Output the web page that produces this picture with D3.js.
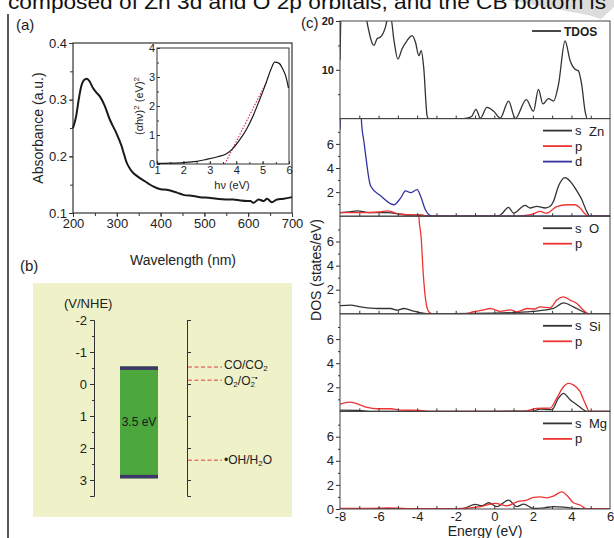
<!DOCTYPE html>
<html>
<head>
<meta charset="utf-8">
<script src="https://cdn.jsdelivr.net/npm/d3@7"></script>
<style>
  body { margin: 0; background: #fff; }
  svg { display: block; font-family: Arial, "Liberation Sans", sans-serif; }
  .axis text { fill: #222; }
  .axis path, .axis line { stroke: #333; }
</style>
</head>
<body>
<div id="plot"></div>
<script>
// ---------- data: panel (a) absorbance ----------
var absWl = [200, 207, 213, 219, 227, 232, 238, 246, 253, 262, 272, 284, 299, 306, 311, 316, 322, 330, 337, 345, 352, 360, 372, 383, 400, 414, 437, 452, 475, 490, 510, 528, 550, 566, 582, 597, 605, 612, 624, 635, 643, 654, 666, 681, 700];
var absVal = [0.25, 0.27, 0.30, 0.324, 0.336, 0.337, 0.332, 0.32, 0.313, 0.305, 0.29, 0.265, 0.241, 0.228, 0.218, 0.205, 0.19, 0.178, 0.171, 0.166, 0.162, 0.158, 0.152, 0.147, 0.142, 0.141, 0.136, 0.132, 0.13, 0.128, 0.127, 0.125, 0.124, 0.124, 0.122, 0.121, 0.121, 0.118, 0.124, 0.121, 0.125, 0.119, 0.124, 0.125, 0.128];
var absTicksX = [200, 300, 400, 500, 600, 700];
var absTicksY = [0.1, 0.2, 0.3, 0.4];

// inset Tauc plot
var taucE = [1, 1.5, 2, 2.5, 2.88, 3.3, 3.63, 3.88, 4.13, 4.38, 4.63, 4.88, 5.13, 5.31, 5.46, 5.63, 5.75, 5.88, 5.98];
var taucVal = [0.02, 0.03, 0.05, 0.09, 0.16, 0.25, 0.35, 0.54, 0.83, 1.18, 1.64, 2.2, 2.79, 3.25, 3.51, 3.47, 3.3, 3.02, 2.62];
var fitE = [3.57, 5.13];
var fitVal = [0, 2.8];

// ---------- data: panel (b) band edges ----------
var potTicks = [-2, -1, 0, 1, 2, 3];
var cbEdge = -0.55;
var vbEdge = 2.95;
var gapLabel = "3.5 eV";
var redoxNames = ["CO/CO2", "O2/O2-", "OH/H2O"];
var redoxPot = [-0.53, -0.12, 2.38];

// ---------- data: panel (c) DOS ----------
var tdosE = [-8, -7.9, -6.75, -6.67, -6.5, -6.24, -6.07, -5.9, -5.64, -5.5, -5.38, -5.2, -5.0, -4.78, -4.52, -4.26, -4.09, -3.91, -3.79, -3.66, -3.48, -3.4, -1.6, -1.41, -1.16, -0.95, -0.72, -0.38, -0.03, 0.31, 0.74, 1.09, 1.66, 2.03, 2.29, 2.52, 2.81, 3.07, 3.33, 3.67, 3.93, 4.19, 4.36, 4.53, 4.71, 4.83, 6];
var tdosVal = [12, 26, 26, 22, 17.9, 15.0, 16.4, 16.7, 18.8, 21, 21, 16, 12.2, 14.3, 16, 17, 15.7, 12.9, 13.9, 10.5, 0.5, 0, 0, 0.1, 0.5, 1.9, 0.1, 2.3, 1.5, 0.1, 3.6, 0, 3.9, 1.5, 6, 3, 4.1, 3.6, 7, 15.9, 11.9, 10.1, 9.8, 7, 1.5, 0, 0];

var znSE = [-8, -7.5, -7.1, -6.5, -5.5, -5, -4.5, -3.8, -3.4, 0, 0.31, 0.74, 1.0, 1.6, 1.86, 2.2, 2.64, 2.9, 3.07, 3.33, 3.67, 3.93, 4.28, 4.53, 4.79, 4.97, 6];
var znSVal = [0.3, 0.35, 0.45, 0.3, 0.3, 0.2, 0.1, 0.08, 0, 0.02, 0.1, 0.73, 0.25, 0.9, 0.68, 0.82, 0.68, 0.82, 1.24, 2.5, 3.2, 2.9, 2.1, 1.4, 0.4, 0, 0];
var znPE = [-8, -7, -6, -5.5, -5, -4.5, -3.8, -3.4, 1.0, 1.5, 2.03, 2.38, 2.7, 3.24, 3.76, 4.19, 4.45, 4.7, 4.9, 6];
var znPVal = [0.3, 0.3, 0.35, 0.45, 0.2, 0.12, 0.1, 0, 0, 0.05, 0.2, 0.4, 0.25, 0.8, 0.95, 0.95, 0.68, 0.2, 0, 0];
var znDE = [-8, -7.85, -7.0, -6.88, -6.76, -6.6, -6.5, -6.41, -5.9, -5.21, -4.86, -4.6, -4.34, -4.0, -3.83, -3.57, -3.31, -3.1, 6];
var znDVal = [7.2, 12, 12, 7.7, 6.2, 4.2, 3.1, 2.5, 1.7, 0.95, 1.5, 2.1, 1.95, 2.2, 1.7, 0.53, 0.05, 0, 0];

var oSE = [-8, -7.45, -6.93, -6.07, -5.38, -5.03, -4.69, -4.17, -3.7, -3.4, 0, 2.0, 3.07, 3.59, 4.1, 4.6, 4.85, 6];
var oSVal = [0.67, 0.72, 0.58, 0.44, 0.44, 0.3, 0.44, 0.22, 0.05, 0, 0.05, 0.2, 0.44, 0.9, 0.58, 0.17, 0, 0];
var oPE = [-8, -3.95, -3.91, -3.79, -3.69, -3.57, -3.40, -3.22, -1.5, -1.07, -0.6, -0.2, 0.3, 0.83, 1.17, 1.7, 2.1, 2.38, 2.9, 3.24, 3.59, 3.93, 4.28, 4.53, 4.79, 4.95, 6];
var oPVal = [12, 12, 8.1, 6.3, 3.5, 1.28, 0.17, 0, 0, 0.17, 0.3, 0.44, 0.2, 0.33, 0.17, 0.44, 0.4, 0.58, 0.5, 1.14, 1.4, 1.14, 0.86, 0.44, 0.08, 0, 0];

var siSE = [-8, -7, -6.5, -2, 2.0, 2.38, 2.98, 3.33, 3.59, 3.93, 4.28, 4.62, 4.8, 6];
var siSVal = [0.1, 0.08, 0, 0, 0.03, 0.2, 0.14, 1.1, 1.5, 0.96, 0.55, 0.14, 0, 0];
var siPE = [-8, -7.53, -7.1, -6.59, -6.07, -5.38, -4.86, -3.83, -3.4, 1.2, 1.69, 2.2, 2.9, 3.24, 3.59, 3.84, 4.1, 4.45, 4.71, 4.93, 6];
var siPVal = [0.6, 0.77, 0.63, 0.33, 0.22, 0.22, 0.11, 0.08, 0, 0, 0.05, 0.25, 0.27, 1.1, 2.05, 2.33, 2.2, 1.64, 0.68, 0, 0];

var mgSE = [-8, -1.8, -1.59, -0.98, -0.64, -0.29, 0.14, 0.74, 1.17, 1.52, 2.03, 2.6, 3.07, 3.59, 4.2, 4.6, 6];
var mgSVal = [0.02, 0, 0.05, 0.38, 0.27, 0.52, 0.2, 0.74, 0.2, 0.4, 0.05, 0.1, 0.2, 0.16, 0.05, 0, 0];
var mgPE = [-8, -6.5, -5.5, -4.5, -2, -0.72, 0.05, 0.66, 1.17, 1.69, 2.03, 2.38, 2.72, 3.07, 3.5, 3.84, 4.1, 4.45, 4.79, 6];
var mgPVal = [0.05, 0.05, 0.1, 0.03, 0.02, 0.2, 0.47, 0.27, 0.6, 0.74, 0.96, 1.0, 0.93, 1.07, 1.42, 1.0, 0.52, 0.33, 0, 0];

var energyTicks = [-8, -6, -4, -2, 0, 2, 4, 6];

var black = "#333";
var red = "#ee3333";
var blue = "#3333a0";
var plain = d => String(d);   // keep "-2" with a plain hyphen like the figure

// ---------- svg ----------
var svg = d3.select("#plot").append("svg")
    .attr("width", 614)
    .attr("height", 538);

svg.append("rect").attr("width", 614).attr("height", 538).attr("fill", "#fff");

// grey band behind the cut-off caption
svg.append("path")
    .attr("d", "M508,0 L614,0 L614,7 L601,19 L588,15 Z")
    .attr("fill", "#dcdcdc");

// caption text cut off at top of the page
svg.append("text")
    .attr("x", 8).attr("y", 9)
    .attr("font-size", 20)
    .attr("textLength", 598)
    .attr("lengthAdjust", "spacingAndGlyphs")
    .attr("fill", "#111")
    .text("composed of Zn 3d and O 2p orbitals, and the CB bottom is");

svg.append("line")
    .attr("x1", 8).attr("x2", 8).attr("y1", 14).attr("y2", 538)
    .attr("stroke", "#222").attr("stroke-width", 1.5);

function zip(xs, ys) { return xs.map((x, i) => [x, ys[i]]); }

// =================================
// panel (a)
// =================================
var xA = d3.scaleLinear().domain([200, 700]).range([73, 292]);
var yA = d3.scaleLinear().domain([0.1, 0.4]).range([213, 43]);
var gA = svg.append("g");

gA.append("rect").attr("x", 73).attr("y", 43).attr("width", 219).attr("height", 170)
    .attr("fill", "none").attr("stroke", black).attr("stroke-width", 1.2);

gA.append("g").attr("class", "axis")
    .attr("transform", "translate(0,213)")
    .call(d3.axisBottom(xA).tickValues(d3.range(200, 701, 50)).tickSize(3).tickFormat(""))
    .call(g => g.select(".domain").remove());
gA.append("g").attr("class", "axis")
    .attr("transform", "translate(0,213)")
    .call(d3.axisBottom(xA).tickValues(absTicksX).tickSize(4).tickPadding(2))
    .call(g => g.select(".domain").remove())
    .selectAll("text").attr("font-size", 13);

gA.append("g").attr("class", "axis")
    .attr("transform", "translate(73,0)")
    .call(d3.axisLeft(yA).tickValues(d3.range(0.1, 0.401, 0.05)).tickSize(3).tickFormat(""))
    .call(g => g.select(".domain").remove());
gA.append("g").attr("class", "axis")
    .attr("transform", "translate(73,0)")
    .call(d3.axisLeft(yA).tickValues(absTicksY).tickSize(4).tickPadding(2).tickFormat(d3.format(".1f")))
    .call(g => g.select(".domain").remove())
    .selectAll("text").attr("font-size", 13);

gA.append("path")
    .datum(zip(absWl, absVal))
    .attr("fill", "none").attr("stroke", "#1a1a1a").attr("stroke-width", 2)
    .attr("d", d3.line().x(d => xA(d[0])).y(d => yA(d[1])).curve(d3.curveMonotoneX));

// inset
var xI = d3.scaleLinear().domain([1, 6]).range([157, 289]);
var yI = d3.scaleLinear().domain([0, 4]).range([164, 48]);
gA.append("rect").attr("x", 157).attr("y", 48).attr("width", 132).attr("height", 116)
    .attr("fill", "#fff").attr("stroke", black).attr("stroke-width", 1);

gA.append("g").attr("class", "axis")
    .attr("transform", "translate(0,164)")
    .call(d3.axisBottom(xI).tickValues(d3.range(1, 6.01, 0.5)).tickSize(-2).tickFormat(""))
    .call(g => g.select(".domain").remove());
gA.append("g").attr("class", "axis")
    .attr("transform", "translate(0,164)")
    .call(d3.axisBottom(xI).ticks(6).tickSize(-3).tickPadding(2))
    .call(g => g.select(".domain").remove())
    .selectAll("text").attr("font-size", 11);
gA.append("g").attr("class", "axis")
    .attr("transform", "translate(157,0)")
    .call(d3.axisLeft(yI).tickValues(d3.range(0, 4.01, 0.5)).tickSize(-2).tickFormat(""))
    .call(g => g.select(".domain").remove());
gA.append("g").attr("class", "axis")
    .attr("transform", "translate(157,0)")
    .call(d3.axisLeft(yI).ticks(4).tickSize(-3).tickPadding(2))
    .call(g => g.select(".domain").remove())
    .selectAll("text").attr("font-size", 11);

gA.append("path")
    .datum(zip(fitE, fitVal))
    .attr("fill", "none").attr("stroke", "#e0307a").attr("stroke-width", 1.2)
    .attr("stroke-dasharray", "1.5,1.5")
    .attr("d", d3.line().x(d => xI(d[0])).y(d => yI(d[1])));
gA.append("path")
    .datum(zip(taucE, taucVal))
    .attr("fill", "none").attr("stroke", "#1a1a1a").attr("stroke-width", 1.2)
    .attr("d", d3.line().x(d => xI(d[0])).y(d => yI(d[1])).curve(d3.curveMonotoneX));

gA.append("text")
    .attr("transform", "translate(143,106) rotate(-90)")
    .attr("text-anchor", "middle").attr("font-size", 11).attr("fill", "#222")
    .html('(αhν)<tspan dy="-4" font-size="8">2</tspan><tspan dy="4"> (eV)</tspan><tspan dy="-4" font-size="8">2</tspan>');
gA.append("text")
    .attr("x", 232).attr("y", 189)
    .attr("text-anchor", "middle").attr("font-size", 11).attr("fill", "#222")
    .text("hν (eV)");

gA.append("text").attr("x", 16).attr("y", 30).attr("font-size", 15).attr("fill", "#222").text("(a)");
gA.append("text")
    .attr("transform", "translate(43,128) rotate(-90)")
    .attr("text-anchor", "middle").attr("font-size", 14).attr("fill", "#222")
    .text("Absorbance (a.u.)");
gA.append("text")
    .attr("x", 183).attr("y", 265)
    .attr("text-anchor", "middle").attr("font-size", 14).attr("fill", "#222")
    .text("Wavelength (nm)");

// =================================
// panel (b)
// =================================
var yB = d3.scaleLinear().domain([-2, 3.5]).range([320, 496]);
var gB = svg.append("g");

gB.append("text").attr("x", 20).attr("y", 271).attr("font-size", 15).attr("fill", "#222").text("(b)");
gB.append("rect").attr("x", 33).attr("y", 283).attr("width", 259).attr("height", 234)
    .attr("fill", "#eff1c8");

gB.append("text").attr("x", 64).attr("y", 308).attr("font-size", 13).attr("fill", "#222").text("(V/NHE)");

gB.append("g").attr("class", "axis")
    .attr("transform", "translate(94,0)")
    .call(d3.axisLeft(yB).tickValues(d3.range(-1.5, 3.01, 1)).tickSize(2).tickSizeOuter(0).tickFormat(""))
    .call(g => g.select(".domain").remove());
gB.append("g").attr("class", "axis")
    .attr("transform", "translate(94,0)")
    .call(d3.axisLeft(yB).tickValues(potTicks).tickSize(4).tickSizeOuter(4).tickPadding(3).tickFormat(plain))
    .selectAll("text").attr("font-size", 13);

gB.append("g").attr("class", "axis")
    .attr("transform", "translate(187,0)")
    .call(d3.axisRight(yB).tickValues(potTicks).tickSize(4).tickSizeOuter(4).tickFormat(""));

// band gap block
var bandX = 120, bandW = 38;
gB.append("rect")
    .attr("x", bandX).attr("width", bandW)
    .attr("y", yB(cbEdge)).attr("height", yB(vbEdge) - yB(cbEdge))
    .attr("fill", "#4ca83c");
[cbEdge, vbEdge - 0.11].forEach(function (v) {
    gB.append("rect")
        .attr("x", bandX).attr("width", bandW)
        .attr("y", yB(v)).attr("height", yB(v + 0.11) - yB(v))
        .attr("fill", "#3e3868");
});
gB.append("text")
    .attr("x", bandX + bandW / 2).attr("y", yB((cbEdge + vbEdge) / 2) + 4)
    .attr("text-anchor", "middle").attr("font-size", 12).attr("fill", "#1a1a1a")
    .text(gapLabel);

var redoxHtml = [
    'CO/CO<tspan dy="2" font-size="8">2</tspan>',
    'O<tspan dy="2" font-size="8">2</tspan><tspan dy="-2">/O</tspan><tspan dy="2" font-size="8">2</tspan><tspan dx="-4" dy="-7" font-size="7">−•</tspan>',
    '•OH/H<tspan dy="2" font-size="8">2</tspan><tspan dy="-2">O</tspan>'
];
var labelShift = [2, 5, 4];
redoxPot.forEach(function (v, i) {
    gB.append("line")
        .attr("x1", 188).attr("x2", 222)
        .attr("y1", yB(v)).attr("y2", yB(v))
        .attr("stroke", "#e03a3a").attr("stroke-width", 1)
        .attr("stroke-dasharray", "4,2.5");
    gB.append("text")
        .attr("x", 224).attr("y", yB(v) + labelShift[i])
        .attr("font-size", 12).attr("fill", "#222")
        .html(redoxHtml[i]);
});

// =================================
// panel (c)
// =================================
var xC = d3.scaleLinear().domain([-8, 6]).range([340, 610]);
var cTop = 21, cBottom = 509;
var panelH = (cBottom - cTop) / 5;
var gC = svg.append("g");

var panels = [
    { max: 20, ticks: [10, 20], minor: [5, 15], series: [[tdosE, tdosVal, black]], legend: ["TDOS"], elem: "" },
    { max: 8.1, ticks: [2, 4, 6], minor: [1, 3, 5, 7], series: [[znSE, znSVal, black], [znPE, znPVal, red], [znDE, znDVal, blue]], legend: ["s", "p", "d"], elem: "Zn" },
    { max: 8.1, ticks: [2, 4, 6], minor: [1, 3, 5, 7], series: [[oSE, oSVal, black], [oPE, oPVal, red]], legend: ["s", "p"], elem: "O" },
    { max: 8.1, ticks: [2, 4, 6], minor: [1, 3, 5, 7], series: [[siSE, siSVal, black], [siPE, siPVal, red]], legend: ["s", "p"], elem: "Si" },
    { max: 8.1, ticks: [0, 2, 4, 6], minor: [1, 3, 5, 7], series: [[mgSE, mgSVal, black], [mgPE, mgPVal, red]], legend: ["s", "p"], elem: "Mg" }
];

panels.forEach(function (p, i) {
    var top = cTop + i * panelH;
    var bottom = top + panelH;
    var y = d3.scaleLinear().domain([0, p.max]).range([bottom, top]);
    var g = gC.append("g");

    g.append("clipPath").attr("id", "clip" + i)
        .append("rect").attr("x", 340).attr("y", top).attr("width", 270).attr("height", panelH);

    var line = d3.line().x(d => xC(d[0])).y(d => y(d[1])).curve(d3.curveMonotoneX);
    p.series.forEach(function (s) {
        g.append("path")
            .datum(zip(s[0], s[1]))
            .attr("clip-path", "url(#clip" + i + ")")
            .attr("fill", "none").attr("stroke", s[2]).attr("stroke-width", 1.3)
            .attr("d", line);
    });

    g.append("rect").attr("x", 340).attr("y", top).attr("width", 270).attr("height", panelH)
        .attr("fill", "none").attr("stroke", "#444").attr("stroke-width", 1);

    // energy ticks inside each panel bottom
    g.append("g").attr("class", "axis")
        .attr("transform", "translate(0," + bottom + ")")
        .call(d3.axisBottom(xC).tickValues(d3.range(-7, 6, 1)).tickSize(-3).tickFormat(""))
        .call(g => g.select(".domain").remove());

    g.append("g").attr("class", "axis")
        .attr("transform", "translate(340,0)")
        .call(d3.axisLeft(y).tickValues(p.minor).tickSize(2).tickFormat(""))
        .call(g => g.select(".domain").remove());
    g.append("g").attr("class", "axis")
        .attr("transform", "translate(340,0)")
        .call(d3.axisLeft(y).tickValues(p.ticks).tickSize(4).tickPadding(2))
        .call(g => g.select(".domain").remove())
        .selectAll("text").attr("font-size", i === 0 ? 11 : 13).attr("font-weight", i === 0 ? "bold" : "normal");

    // legend
    var ly = top + (i === 0 ? 10 : 12);
    var lx = i === 0 ? 532 : 543;
    p.legend.forEach(function (lab, k) {
        var yy = ly + k * 15.5;
        g.append("line")
            .attr("x1", lx).attr("x2", lx + 29).attr("y1", yy).attr("y2", yy)
            .attr("stroke", p.series[k][2]).attr("stroke-width", 1.8);
        g.append("text")
            .attr("x", lx + 32).attr("y", yy + 4.5)
            .attr("font-size", i === 0 ? 12 : 13)
            .attr("font-weight", i === 0 ? "bold" : "normal")
            .attr("fill", "#222")
            .text(lab);
    });
    if (p.elem) {
        g.append("text")
            .attr("x", 589).attr("y", ly + 5)
            .attr("font-size", 13).attr("fill", "#222")
            .text(p.elem);
    }
});

gC.append("g").attr("class", "axis")
    .attr("transform", "translate(0," + cBottom + ")")
    .call(d3.axisBottom(xC).tickValues(energyTicks).tickSize(0).tickPadding(3).tickFormat(plain))
    .call(g => g.select(".domain").remove())
    .selectAll("text").attr("font-size", 13);

gC.append("text").attr("x", 301).attr("y", 28).attr("font-size", 15).attr("fill", "#222").text("(c)");
gC.append("text")
    .attr("transform", "translate(321,270) rotate(-90)")
    .attr("text-anchor", "middle").attr("font-size", 14).attr("fill", "#222")
    .text("DOS (states/eV)");
gC.append("text")
    .attr("x", 485).attr("y", 536)
    .attr("text-anchor", "middle").attr("font-size", 14).attr("fill", "#222")
    .text("Energy (eV)");
</script>
</body>
</html>
